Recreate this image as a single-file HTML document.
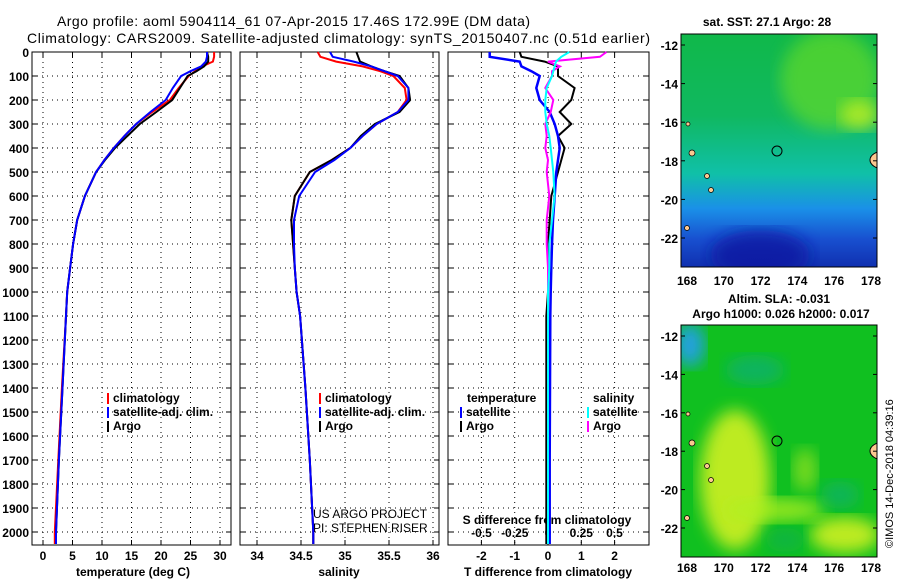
<!DOCTYPE html>
<html><head><meta charset="utf-8"><style>
body{margin:0;background:#fff;}
svg text{font-family:"Liberation Sans",sans-serif;font-weight:bold;font-size:12px;fill:#000}
</style></head><body>
<svg id="c" width="900" height="580" xmlns="http://www.w3.org/2000/svg">
<defs>
<linearGradient id="sst" x1="0" y1="0" x2="0" y2="1">
<stop offset="0" stop-color="#10b84a"/><stop offset="0.35" stop-color="#10b860"/>
<stop offset="0.6" stop-color="#10c0a8"/><stop offset="0.75" stop-color="#1a90e8"/>
<stop offset="0.88" stop-color="#1850d0"/><stop offset="1" stop-color="#1030b0"/></linearGradient>
<filter id="bl"><feGaussianBlur stdDeviation="8"/></filter>
<clipPath id="m1"><rect x="681" y="34" width="196" height="233"/></clipPath>
<clipPath id="m2"><rect x="681" y="325" width="196" height="232"/></clipPath>
</defs>
<text x="57" y="26" textLength="473" style="font-size:14px;font-weight:normal">Argo profile: aoml 5904114_61 07-Apr-2015 17.46S 172.99E (DM data)</text>
<text x="27" y="43" textLength="623" style="font-size:14px;font-weight:normal">Climatology: CARS2009. Satellite-adjusted climatology: synTS_20150407.nc (0.51d earlier)</text>
<g id="maps">
<g clip-path="url(#m1)">
<rect x="681" y="34" width="196" height="233" fill="url(#sst)"/>
<ellipse cx="830" cy="80" rx="50" ry="50" fill="#70e020" opacity="0.6" filter="url(#bl)"/>
<ellipse cx="860" cy="115" rx="20" ry="15" fill="#c0f020" opacity="0.8" filter="url(#bl)"/>
<ellipse cx="760" cy="255" rx="50" ry="25" fill="#0818a0" opacity="0.8" filter="url(#bl)"/>
<ellipse cx="884" cy="160" rx="14" ry="9" fill="#fcc890" stroke="#000"/>
<g fill="#fcc890" stroke="#000" stroke-width="0.7">
<circle cx="692" cy="153" r="3"/><circle cx="707" cy="176" r="2.5"/><circle cx="711" cy="190" r="2.5"/><circle cx="687" cy="228" r="2.5"/><circle cx="688" cy="124" r="2"/></g>
<circle cx="777" cy="151" r="5" fill="none" stroke="#000"/>
</g>
<rect x="681" y="34" width="196" height="233" fill="none" stroke="#000"/>
<g clip-path="url(#m2)">
<rect x="681" y="325" width="196" height="232" fill="#10c020"/>
<ellipse cx="690" cy="345" rx="15" ry="22" fill="#20a0e0" filter="url(#bl)"/>
<ellipse cx="755" cy="370" rx="30" ry="15" fill="#10b070" opacity="0.8" filter="url(#bl)"/>
<ellipse cx="735" cy="480" rx="35" ry="70" fill="#d0f020" opacity="0.9" filter="url(#bl)"/>
<ellipse cx="775" cy="510" rx="50" ry="12" fill="#b0f020" opacity="0.8" filter="url(#bl)"/>
<ellipse cx="805" cy="470" rx="12" ry="22" fill="#90e020" opacity="0.8" filter="url(#bl)"/>
<ellipse cx="845" cy="535" rx="35" ry="18" fill="#d0f020" opacity="0.9" filter="url(#bl)"/>
<ellipse cx="840" cy="495" rx="20" ry="14" fill="#10b070" opacity="0.7" filter="url(#bl)"/>
<ellipse cx="785" cy="540" rx="20" ry="12" fill="#10b050" opacity="0.7" filter="url(#bl)"/>
<ellipse cx="884" cy="451" rx="14" ry="9" fill="#fcc890" stroke="#000"/>
<g fill="#fcc890" stroke="#000" stroke-width="0.7">
<circle cx="692" cy="443" r="3"/><circle cx="707" cy="466" r="2.5"/><circle cx="711" cy="480" r="2.5"/><circle cx="687" cy="518" r="2.5"/><circle cx="688" cy="414" r="2"/></g>
<circle cx="777" cy="441" r="5" fill="none" stroke="#000"/>
</g>
<rect x="681" y="325" width="196" height="232" fill="none" stroke="#000"/>
<text x="767" y="26" text-anchor="middle">sat. SST: 27.1 Argo: 28</text>
<text x="779" y="303" text-anchor="middle">Altim. SLA: -0.031</text>
<text x="781" y="318" text-anchor="middle">Argo h1000: 0.026 h2000: 0.017</text>
<text transform="translate(893,548) rotate(-90)" style="font-size:11px;font-weight:normal">©IMOS 14-Dec-2018 04:39:16</text>
</g>
<g id="g"></g>
</svg>
<script>
const depths=[0,20,40,60,80,100,150,200,250,300,350,400,450,500,600,700,800,900,1000,1100,1400,1700,2000,2050];
const tArgo=[27.8,28,28,27.3,26,24.5,23.2,21.9,19.2,16.4,14.3,12.2,10.5,9,7.1,5.8,5.1,4.6,4.1,3.9,3.3,2.7,2.2,2.2];
const tClim=[29,29,28.8,27,25.8,24.7,23,21.5,18.5,15.8,13.8,12,10.4,9,7.1,5.8,5.1,4.6,4.1,3.9,3.2,2.6,2.0,2.0];
const tSat=[27.8,27.8,27.6,26.8,25,23.4,22,20.8,18.2,15.8,13.8,12,10.4,9,7.1,5.8,5.1,4.6,4.1,3.9,3.3,2.7,2.2,2.2];
const sArgo=[35.13,35.15,35.17,35.3,35.45,35.62,35.72,35.74,35.62,35.34,35.18,35.06,34.85,34.6,34.43,34.39,34.41,34.43,34.45,34.49,34.55,34.6,34.64,34.64];
const sClim=[34.69,34.72,34.9,35.2,35.4,35.55,35.68,35.7,35.6,35.36,35.2,35.06,34.85,34.6,34.43,34.39,34.41,34.43,34.45,34.49,34.55,34.6,34.64,34.64];
const sSat=[34.83,34.86,35.1,35.3,35.45,35.6,35.72,35.72,35.6,35.36,35.2,35.06,34.88,34.66,34.48,34.42,34.42,34.43,34.45,34.49,34.55,34.6,34.64,34.64];
const dTArgo=[-0.85,-0.8,-0.1,0.3,0.3,0.3,0.8,0.7,0.35,0.7,0.3,0.5,0.4,0.3,0.1,0.05,0,0,0,-0.05,-0.05,-0.05,-0.05,-0.05];
const dTSat=[-1.75,-1.75,-0.85,-0.8,-0.5,-0.25,-0.35,-0.25,0.05,0.2,0.3,0.35,0.3,0.25,0.2,0.15,0.12,0.1,0.08,0.07,0.06,0.05,0.05,0.05];
const dSArgo=[0.44,0.39,0,0.09,0.03,0.03,-0.02,0.04,0.02,-0.02,-0.01,-0.02,0,-0.01,0.01,-0.01,-0.01,0,0,0,0,0,0,0];
const dSSat=[0.16,0.1,0.06,0.05,0.04,0.03,-0.01,-0.02,-0.02,-0.01,0.01,0.02,0.03,0.04,0.05,0.03,0.01,0.01,0,0,0,0,0,0];
const depthTicks=[0,100,200,300,400,500,600,700,800,900,1000,1100,1200,1300,1400,1500,1600,1700,1800,1900,2000];
const tTicks=[0,5,10,15,20,25,30], sTicks=[34,34.5,35,35.5,36], dTTicks=[-2,-1,0,1,2], dSTicks=[-0.5,-0.25,0,0.25,0.5];
const dSLabels=['-0.5','-0.25','0','0.25','0.5'];
const latTicks=[-12,-14,-16,-18,-20,-22], lonTicks=[168,170,172,174,176,178];
const NS='http://www.w3.org/2000/svg', G=document.getElementById('g');
function el(t,a,txt){const e=document.createElementNS(NS,t);for(const k in a)e.setAttribute(k,a[k]);if(txt!=null)e.textContent=txt;G.appendChild(e);return e;}
const Y=d=>52+d*0.24, TOP=52, BOT=545;
const panels=[{x0:32,x1:231,f:v=>43+5.9*v},{x0:240,x1:439,f:v=>257+88*(v-34)},{x0:448,x1:649,f:v=>548+33.3*v}];
const fS=v=>548+133*v;
panels.forEach((p,i)=>{
  const fr=el('rect',{x:p.x0,y:TOP,width:p.x1-p.x0,height:BOT-TOP,fill:'none',stroke:'#000'});
  
  
  depthTicks.forEach(d=>{
    const l=el('line',{x1:p.x0,x2:p.x1,y1:Y(d),y2:Y(d),stroke:'#000','stroke-dasharray':'1 4'});
    
    
    el('line',{x1:p.x0,x2:p.x0+5,y1:Y(d),y2:Y(d),stroke:'#000'});
    el('line',{x1:p.x1-5,x2:p.x1,y1:Y(d),y2:Y(d),stroke:'#000'});
  });
  const ticks=i==0?tTicks:i==1?sTicks:dTTicks;
  ticks.forEach(v=>{const x=p.f(v);
    const l=el('line',{x1:x,x2:x,y1:TOP,y2:BOT,stroke:'#000','stroke-dasharray':'1 4'});
    
    
    el('line',{x1:x,x2:x,y1:TOP,y2:TOP+5,stroke:'#000'});
    el('line',{x1:x,x2:x,y1:BOT-5,y2:BOT,stroke:'#000'});
    const t=el('text',{x:x,y:560,'text-anchor':'middle'},String(v));
    
    
  });
});
depthTicks.forEach(d=>{const t=el('text',{x:29,y:Y(d)+5,'text-anchor':'end'},String(d));
  
  });
dSTicks.forEach((v,i)=>{const t=el('text',{x:fS(v),y:537,'text-anchor':'middle'},dSLabels[i]);
  
  });
[['temperature (deg C)',133,'x-axis-title-temperature'],['salinity',339,'x-axis-title-salinity'],['T difference from climatology',548,'x-axis-title-t-diff']].forEach(a=>{
  const t=el('text',{x:a[1],y:576,'text-anchor':'middle'},a[0]);
  
  });
const st=el('text',{x:547,y:524,'text-anchor':'middle'},'S difference from climatology');


const c1=el('text',{x:313,y:518,style:'font-weight:normal'},'US ARGO PROJECT');


const c2=el('text',{x:313,y:532,style:'font-weight:normal'},'PI: STEPHEN RISER');


function line(vals,f,color,name,w){
  const pts=vals.map((v,i)=>f(v).toFixed(1)+','+Y(depths[i]).toFixed(1)).join(' ');
  const l=el('polyline',{points:pts,fill:'none',stroke:color,'stroke-width':w||2});
  
  
}
line(tClim,panels[0].f,'#f00','temp-climatology-line');
line(tArgo,panels[0].f,'#000','temp-argo-line');
line(tSat,panels[0].f,'#00f','temp-satellite-line');
line(sClim,panels[1].f,'#f00','salinity-climatology-line');
line(sArgo,panels[1].f,'#000','salinity-argo-line');
line(sSat,panels[1].f,'#00f','salinity-satellite-line');
line(dTArgo,panels[2].f,'#000','t-diff-argo-line');
line(dTSat,panels[2].f,'#00f','t-diff-satellite-line',2.5);
line(dSArgo,fS,'#f0f','s-diff-argo-line');
line(dSSat,fS,'#0ff','s-diff-satellite-line');
function leg(x,y,color,label,name){
  el('rect',{x:x,y:y-9,width:2,height:11,fill:color});
  const t=el('text',{x:x+6,y:y},label);
  
  
}
[[107,'legend-temp'],[319,'legend-sal']].forEach(a=>{
  leg(a[0],402,'#f00','climatology',a[1]+'-climatology');
  leg(a[0],416,'#00f','satellite-adj. clim.',a[1]+'-satellite');
  leg(a[0],430,'#000','Argo',a[1]+'-argo');
});
const lt=el('text',{x:467,y:402},'temperature');


leg(460,416,'#00f','satellite','legend-t-diff-satellite');
leg(460,430,'#000','Argo','legend-t-diff-argo');
const ls=el('text',{x:593,y:402},'salinity');


leg(587,416,'#0ff','satellite','legend-s-diff-satellite');
leg(587,430,'#f0f','Argo','legend-s-diff-argo');
function mapAxes(y0,lat12,lat22,name){
  latTicks.forEach(v=>{const y=lat12+(-12-v)/10*(lat22-lat12);
    const t=el('text',{x:678,y:y+5,'text-anchor':'end'},String(v));
    
    
    el('line',{x1:681,x2:685,y1:y,y2:y,stroke:'#000'});el('line',{x1:873,x2:877,y1:y,y2:y,stroke:'#000'});});
  lonTicks.forEach(v=>{const x=687+(v-168)*18.4;
    const t=el('text',{x:x,y:y0,'text-anchor':'middle'},String(v));
    
    });
}
mapAxes(285,45,238,'sst-map');
mapAxes(572,336,528,'sla-map');
</script>
</body></html>
